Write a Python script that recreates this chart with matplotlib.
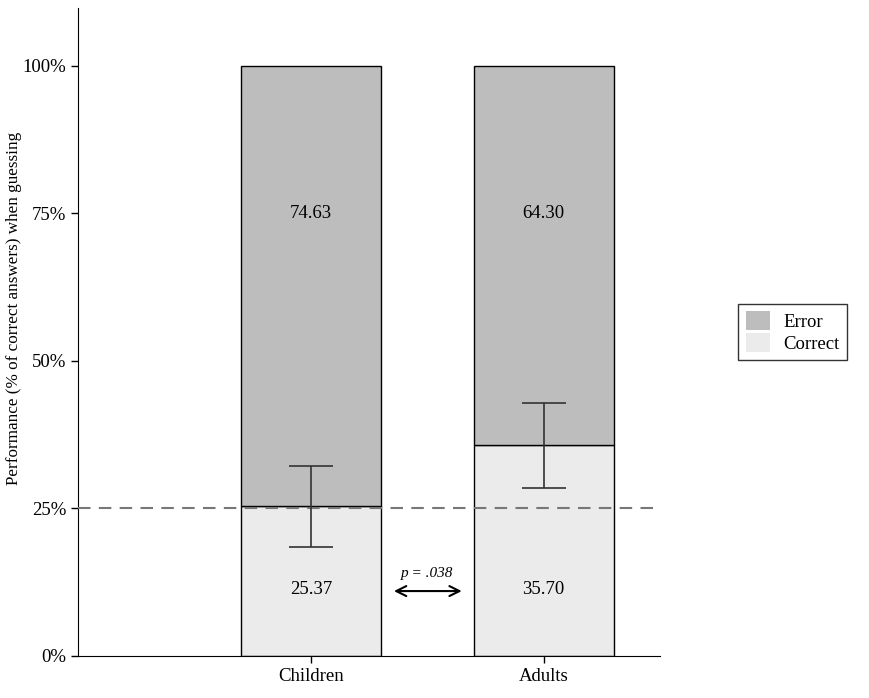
import matplotlib.pyplot as plt
import numpy as np

plt.rcParams['font.family'] = ['Liberation Serif', 'DejaVu Serif']

groups = ['Children', 'Adults']
correct = [25.37, 35.70]
error = [74.63, 64.30]
err_lo = [18.5, 28.5]
err_hi = [32.2, 42.8]
p_text = 'p = .038'

x = np.array([1, 2])
fig = plt.figure(figsize=(8.7, 6.98), dpi=100)
ax = fig.add_axes([0.0897, 0.0602, 0.6690, 0.9283])

b1 = ax.bar(x, correct, width=0.6, color='#ebebeb', edgecolor='black', linewidth=1, label='Correct', zorder=2)
b2 = ax.bar(x, error, width=0.6, bottom=correct, color='#bdbdbd', edgecolor='black', linewidth=1, label='Error', zorder=2)

ax.axhline(25, color='#777777', linestyle=(0, (6, 4)), linewidth=1.5, zorder=3)

for xi, c, lo, hi in zip(x, correct, err_lo, err_hi):
    ax.errorbar(xi, c, yerr=[[c - lo], [hi - c]], fmt='none', ecolor='#333333',
                elinewidth=1.2, capsize=15.5, capthick=1.2, zorder=4)

for xi, c, e in zip(x, correct, error):
    ax.text(xi, 75, f'{e:.2f}', ha='center', va='center', fontsize=13.5)
    ax.text(xi, 11.2, f'{c:.2f}', ha='center', va='center', fontsize=13.5)

ax.annotate('', xy=(1.345, 11.0), xytext=(1.66, 11.0),
            arrowprops=dict(arrowstyle='<->', color='black', lw=1.5, mutation_scale=18))
ax.text(1.5, 14.0, p_text, ha='center', va='center', fontsize=11, style='italic')

ax.set_xlim(0, 2.5)
ax.set_ylim(0, 109.8)
ax.set_yticks([0, 25, 50, 75, 100])
ax.set_yticklabels(['0%', '25%', '50%', '75%', '100%'], fontsize=13.5)
ax.set_xticks(x)
ax.set_xticklabels(groups, fontsize=13.5)
ax.set_ylabel('Performance (% of correct answers) when guessing', fontsize=12.3)
ax.yaxis.set_label_coords(-0.096, 0.537)
ax.spines['top'].set_visible(False)
ax.spines['right'].set_visible(False)
ax.tick_params(length=5, width=1)

leg = ax.legend(handles=[b2, b1], loc='center left', bbox_to_anchor=(1.125, 0.5),
                frameon=True, fancybox=False, edgecolor='black', fontsize=13.5,
                handlelength=1.3, handleheight=1.2, borderpad=0.4, labelspacing=0.1,
                handletextpad=0.7, borderaxespad=0.3)
for h in leg.legend_handles:
    h.set_edgecolor('none')
leg.get_frame().set_linewidth(1)

fig.savefig('out.png', dpi=100)
